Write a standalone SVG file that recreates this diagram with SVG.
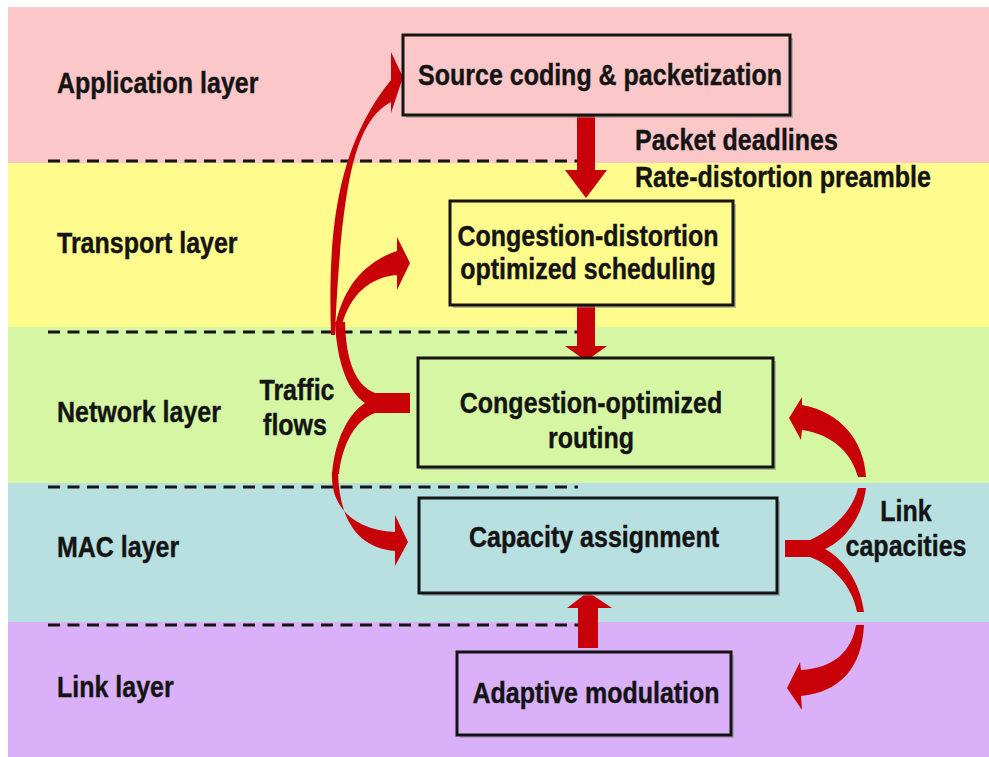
<svg xmlns="http://www.w3.org/2000/svg" width="989" height="757" viewBox="0 0 989 757">
<style>
.t{font-family:"Liberation Sans",Arial,sans-serif;font-weight:bold;font-size:25px;fill:#141414;stroke:#141414;stroke-width:0.35}
.m{text-anchor:middle}
.dash{stroke:#141414;stroke-width:3;stroke-dasharray:12 7.5;fill:none}
.box{stroke:#141414;stroke-width:3}
.sh{fill:#8a8a8a;opacity:0.55}
.arr{fill:#c80008}
</style>
<rect width="989" height="757" fill="#ffffff"/>
<g id="bands">
<rect x="8" y="7" width="981" height="156" fill="#fbc7c9"/>
<rect x="8" y="163" width="981" height="164" fill="#fffb8c"/>
<rect x="8" y="327" width="981" height="156" fill="#d5f7a3"/>
<rect x="8" y="483" width="981" height="139" fill="#b8e0e0"/>
<rect x="8" y="622" width="981" height="135" fill="#dab1f9"/>
</g>
<g id="dividers">
<line class="dash" x1="48" y1="161" x2="578" y2="161"/>
<line class="dash" x1="48" y1="332" x2="578" y2="332"/>
<line class="dash" x1="48" y1="487" x2="578" y2="487"/>
<line class="dash" x1="48" y1="625" x2="578" y2="625"/>
</g>
<g id="layer-labels">
<text class="t" transform="translate(57 93) scale(1 1.2)">Application layer</text>
<text class="t" transform="translate(57 253) scale(1 1.2)">Transport layer</text>
<text class="t" transform="translate(57 422) scale(1 1.2)">Network layer</text>
<text class="t" transform="translate(57 557) scale(1 1.2)">MAC layer</text>
<text class="t" transform="translate(57 697) scale(1 1.2)">Link layer</text>
</g>
<g id="connectors">
<path class="arr" d="M577,114 L595,114 L595,170 L607,170 L586,198 L565,170 L577,170 Z"/>
<path class="arr" d="M577,305 L595,305 L595,346 L607,346 L586,361 L565,346 L577,346 Z"/>
<path class="arr" d="M578,648 L598,648 L598,608 L612,608 L588,592 L567,608 L578,608 Z"/>
<path class="arr" d="M331,335 C328,240 334,150 391,80 L391,52 L403,77 L391,113 L391,102 C358,120 342,170 335,335 Z"/>
<path class="arr" d="M336,322 C345,285 365,262 397,251 L397,237 L410,263 L397,290 L397,275 C370,277 350,295 342,325 Z"/>
<path class="arr" d="M410,393 L375,393 C355,385 346,360 345,322 L335,322 C337,365 349,392 365,403 C348,414 335,440 332,474 L339,474 C342,445 355,420 375,413 L410,413 Z"/>
<path class="arr" d="M332,472 C330,505 352,530 395,532 L395,515 L408,542 L395,566 L395,551 C358,548 339,520 338,472 Z"/>
<path class="arr" d="M785,540 L810,540 C832,530 852,512 858,488 L866,488 C862,520 842,542 825,549 C842,558 860,580 864,612 L857,612 C852,585 832,565 810,557 L785,557 Z"/>
<path class="arr" d="M866,477 C864,440 840,412 802,405 L802,397 L789,418 L801,440 L802,430 C835,435 852,455 858,477 Z"/>
<path class="arr" d="M864,625 C862,668 840,692 801,696 L802,710 L787,688 L800,662 L801,670 C835,668 852,650 856,625 Z"/>
</g>
<g id="source-coding">
<rect class="sh" x="406" y="38" width="387" height="80"/>
<rect class="box" x="403" y="35" width="387" height="80" fill="#fbc7c9"/>
<text class="t m" transform="translate(600 85) scale(1 1.2)">Source coding &amp; packetization</text>
</g>
<g id="scheduling">
<rect class="sh" x="453" y="204" width="283" height="104"/>
<rect class="box" x="450" y="201" width="283" height="104" fill="#fffb8c"/>
<text class="t m" transform="translate(588 246) scale(1 1.2)">Congestion-distortion</text>
<text class="t m" transform="translate(588 279) scale(1 1.2)">optimized scheduling</text>
</g>
<g id="routing">
<rect class="sh" x="421" y="361" width="355" height="109"/>
<rect class="box" x="418" y="358" width="355" height="109" fill="#d5f7a3"/>
<text class="t m" transform="translate(591 413) scale(1 1.2)">Congestion-optimized</text>
<text class="t m" transform="translate(591 448) scale(1 1.2)">routing</text>
</g>
<g id="capacity">
<rect class="sh" x="422" y="501" width="358" height="95"/>
<rect class="box" x="419" y="498" width="358" height="95" fill="#b8e0e0"/>
<text class="t m" transform="translate(594 547) scale(1 1.2)">Capacity assignment</text>
</g>
<g id="modulation">
<rect class="sh" x="460" y="655" width="274" height="83"/>
<rect class="box" x="457" y="652" width="274" height="83" fill="#dab1f9"/>
<text class="t m" transform="translate(596 703) scale(1 1.2)">Adaptive modulation</text>
</g>
<g id="edge-labels">
<text class="t" transform="translate(635 150) scale(1 1.2)">Packet deadlines</text>
<text class="t" transform="translate(635 187) scale(1 1.2)">Rate-distortion preamble</text>
<text class="t m" transform="translate(297 400) scale(1 1.2)">Traffic</text>
<text class="t m" transform="translate(295 435) scale(1 1.2)">flows</text>
<text class="t m" transform="translate(906 521) scale(1 1.2)">Link</text>
<text class="t m" transform="translate(906 556) scale(1 1.2)">capacities</text>
</g>
</svg>
